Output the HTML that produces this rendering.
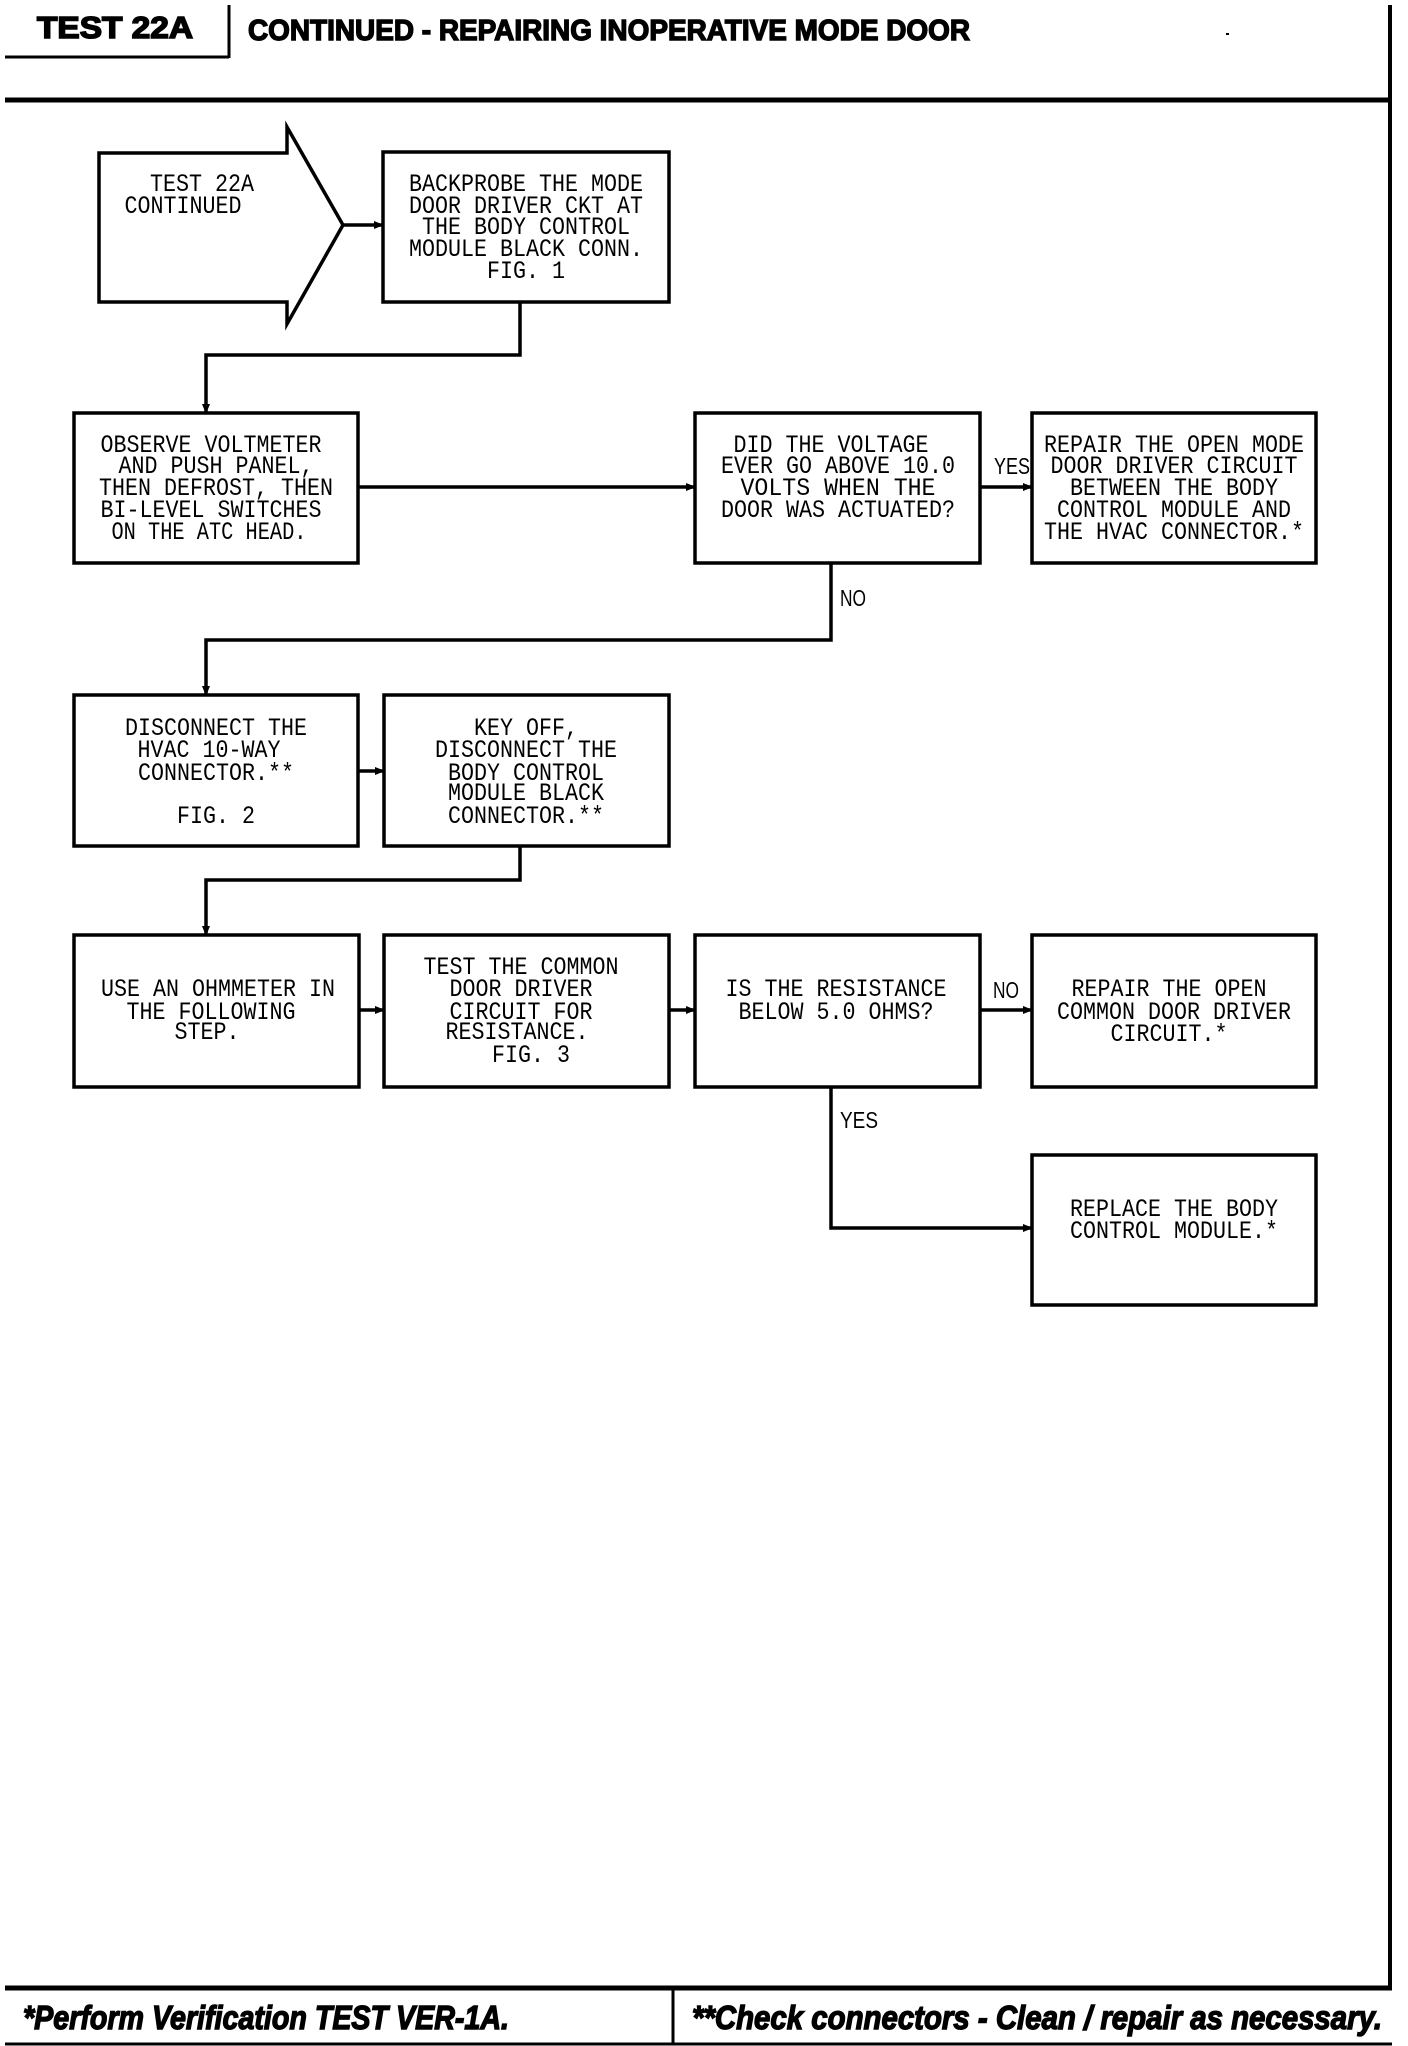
<!DOCTYPE html>
<html><head><meta charset="utf-8"><style>html,body{margin:0;padding:0;background:#fff}svg{display:block}</style></head>
<body>
<svg width="1408" height="2046" viewBox="0 0 1408 2046" xmlns="http://www.w3.org/2000/svg">
<defs><marker id="a" markerWidth="10" markerHeight="10" refX="9" refY="5" orient="auto" markerUnits="userSpaceOnUse"><path d="M0,1 L10,5 L0,9 Z" fill="#000"/></marker></defs>
<g stroke="#000" fill="none">
<line x1="5" y1="57" x2="229" y2="57" stroke-width="3"/>
<line x1="229" y1="5" x2="229" y2="58" stroke-width="3"/>
<line x1="5" y1="100" x2="1392" y2="100" stroke-width="5"/>
<line x1="1390" y1="5" x2="1390" y2="1990" stroke-width="4"/>
<line x1="5" y1="1988" x2="1392" y2="1988" stroke-width="5"/>
<line x1="5" y1="2044" x2="1392" y2="2044" stroke-width="3"/>
<line x1="673" y1="1988" x2="673" y2="2044" stroke-width="3"/>
<g stroke-width="3.5">
<path d="M99,153 H287 V127 L343,225 L287,324 V302 H99 Z"/>
<rect x="383" y="152" width="286" height="150"/>
<rect x="74" y="413" width="284" height="150"/>
<rect x="695" y="413" width="285" height="150"/>
<rect x="1032" y="413" width="284" height="150"/>
<rect x="74" y="695" width="284" height="151"/>
<rect x="384" y="695" width="285" height="151"/>
<rect x="74" y="935" width="285" height="152"/>
<rect x="384" y="935" width="285" height="152"/>
<rect x="695" y="935" width="285" height="152"/>
<rect x="1032" y="935" width="284" height="152"/>
<rect x="1032" y="1155" width="284" height="150"/>
</g>
<g stroke-width="3.5" marker-end="url(#a)">
<line x1="343" y1="225" x2="383" y2="225"/>
<polyline points="520,302 520,355 206,355 206,413"/>
<line x1="358" y1="487" x2="695" y2="487"/>
<line x1="980" y1="487" x2="1032" y2="487"/>
<polyline points="831,563 831,640 206,640 206,695"/>
<line x1="358" y1="771" x2="384" y2="771"/>
<polyline points="520,846 520,880 206,880 206,935"/>
<line x1="359" y1="1010" x2="384" y2="1010"/>
<line x1="669" y1="1010" x2="695" y2="1010"/>
<line x1="980" y1="1010" x2="1032" y2="1010"/>
<polyline points="831,1087 831,1228 1032,1228"/>
</g>
</g>
<g font-family="Liberation Sans, sans-serif" font-weight="bold" fill="#000" stroke="#000">
<text x="37" y="38" font-size="31" stroke-width="1.6" textLength="156" lengthAdjust="spacingAndGlyphs">TEST 22A</text>
<text x="248" y="40" font-size="29" stroke-width="1.4" textLength="722" lengthAdjust="spacingAndGlyphs">CONTINUED - REPAIRING INOPERATIVE MODE DOOR</text>
<text x="23" y="2029" font-size="33" stroke-width="1.4" font-style="italic" textLength="486" lengthAdjust="spacingAndGlyphs">*Perform Verification TEST VER-1A.</text>
<text x="692" y="2029" font-size="33" stroke-width="1.4" font-style="italic" textLength="690" lengthAdjust="spacingAndGlyphs">**Check connectors - Clean / repair as necessary.</text>
</g>
<g font-family="Liberation Mono, monospace" font-size="25" fill="#000" text-anchor="middle" lengthAdjust="spacingAndGlyphs">
<text x="202" y="191" textLength="104" lengthAdjust="spacingAndGlyphs">TEST 22A</text>
<text x="183" y="213" textLength="117" lengthAdjust="spacingAndGlyphs">CONTINUED</text>

<text x="526" y="191" textLength="234" lengthAdjust="spacingAndGlyphs">BACKPROBE THE MODE</text>
<text x="526" y="213" textLength="234" lengthAdjust="spacingAndGlyphs">DOOR DRIVER CKT AT</text>
<text x="526" y="234" textLength="208" lengthAdjust="spacingAndGlyphs">THE BODY CONTROL</text>
<text x="526" y="256" textLength="234" lengthAdjust="spacingAndGlyphs">MODULE BLACK CONN.</text>
<text x="526" y="278" textLength="78" lengthAdjust="spacingAndGlyphs">FIG. 1</text>

<text x="211" y="452" textLength="221" lengthAdjust="spacingAndGlyphs">OBSERVE VOLTMETER</text>
<text x="216" y="473" textLength="195" lengthAdjust="spacingAndGlyphs">AND PUSH PANEL,</text>
<text x="216" y="495" textLength="234" lengthAdjust="spacingAndGlyphs">THEN DEFROST, THEN</text>
<text x="211" y="517" textLength="221" lengthAdjust="spacingAndGlyphs">BI-LEVEL SWITCHES</text>
<text x="209" y="539" textLength="195" lengthAdjust="spacingAndGlyphs">ON THE ATC HEAD.</text>

<text x="831" y="452" textLength="195" lengthAdjust="spacingAndGlyphs">DID THE VOLTAGE</text>
<text x="838" y="473" textLength="234" lengthAdjust="spacingAndGlyphs">EVER GO ABOVE 10.0</text>
<text x="838" y="495" textLength="195" lengthAdjust="spacingAndGlyphs">VOLTS WHEN THE</text>
<text x="838" y="517" textLength="234" lengthAdjust="spacingAndGlyphs">DOOR WAS ACTUATED?</text>

<text x="1174" y="452" textLength="260" lengthAdjust="spacingAndGlyphs">REPAIR THE OPEN MODE</text>
<text x="1174" y="473" textLength="247" lengthAdjust="spacingAndGlyphs">DOOR DRIVER CIRCUIT</text>
<text x="1174" y="495" textLength="208" lengthAdjust="spacingAndGlyphs">BETWEEN THE BODY</text>
<text x="1174" y="517" textLength="234" lengthAdjust="spacingAndGlyphs">CONTROL MODULE AND</text>
<text x="1174" y="539" textLength="260" lengthAdjust="spacingAndGlyphs">THE HVAC CONNECTOR.*</text>

<text x="216" y="735" textLength="182" lengthAdjust="spacingAndGlyphs">DISCONNECT THE</text>
<text x="209" y="757" textLength="143" lengthAdjust="spacingAndGlyphs">HVAC 10-WAY</text>
<text x="216" y="780" textLength="156" lengthAdjust="spacingAndGlyphs">CONNECTOR.**</text>
<text x="216" y="823" textLength="78" lengthAdjust="spacingAndGlyphs">FIG. 2</text>

<text x="526" y="735" textLength="104" lengthAdjust="spacingAndGlyphs">KEY OFF,</text>
<text x="526" y="757" textLength="182" lengthAdjust="spacingAndGlyphs">DISCONNECT THE</text>
<text x="526" y="780" textLength="156" lengthAdjust="spacingAndGlyphs">BODY CONTROL</text>
<text x="526" y="800" textLength="156" lengthAdjust="spacingAndGlyphs">MODULE BLACK</text>
<text x="526" y="823" textLength="156" lengthAdjust="spacingAndGlyphs">CONNECTOR.**</text>

<text x="218" y="996" textLength="234" lengthAdjust="spacingAndGlyphs">USE AN OHMMETER IN</text>
<text x="211" y="1019" textLength="169" lengthAdjust="spacingAndGlyphs">THE FOLLOWING</text>
<text x="207" y="1039" textLength="65" lengthAdjust="spacingAndGlyphs">STEP.</text>

<text x="521" y="974" textLength="195" lengthAdjust="spacingAndGlyphs">TEST THE COMMON</text>
<text x="521" y="996" textLength="143" lengthAdjust="spacingAndGlyphs">DOOR DRIVER</text>
<text x="521" y="1019" textLength="143" lengthAdjust="spacingAndGlyphs">CIRCUIT FOR</text>
<text x="517" y="1039" textLength="143" lengthAdjust="spacingAndGlyphs">RESISTANCE.</text>
<text x="531" y="1062" textLength="78" lengthAdjust="spacingAndGlyphs">FIG. 3</text>

<text x="836" y="996" textLength="221" lengthAdjust="spacingAndGlyphs">IS THE RESISTANCE</text>
<text x="836" y="1019" textLength="195" lengthAdjust="spacingAndGlyphs">BELOW 5.0 OHMS?</text>

<text x="1169" y="996" textLength="195" lengthAdjust="spacingAndGlyphs">REPAIR THE OPEN</text>
<text x="1174" y="1019" textLength="234" lengthAdjust="spacingAndGlyphs">COMMON DOOR DRIVER</text>
<text x="1169" y="1041" textLength="117" lengthAdjust="spacingAndGlyphs">CIRCUIT.*</text>

<text x="1174" y="1216" textLength="208" lengthAdjust="spacingAndGlyphs">REPLACE THE BODY</text>
<text x="1174" y="1238" textLength="208" lengthAdjust="spacingAndGlyphs">CONTROL MODULE.*</text>
</g>
<g font-family="Liberation Sans, sans-serif" font-size="23" fill="#000">
<text x="994" y="474" textLength="36" lengthAdjust="spacingAndGlyphs">YES</text>
<text x="840" y="606" textLength="26" lengthAdjust="spacingAndGlyphs">NO</text>
<text x="993" y="998" textLength="26" lengthAdjust="spacingAndGlyphs">NO</text>
<text x="840" y="1128" textLength="38" lengthAdjust="spacingAndGlyphs">YES</text>
</g>
<rect x="1226" y="33" width="3" height="2" fill="#000"/>
</svg>
</body></html>
